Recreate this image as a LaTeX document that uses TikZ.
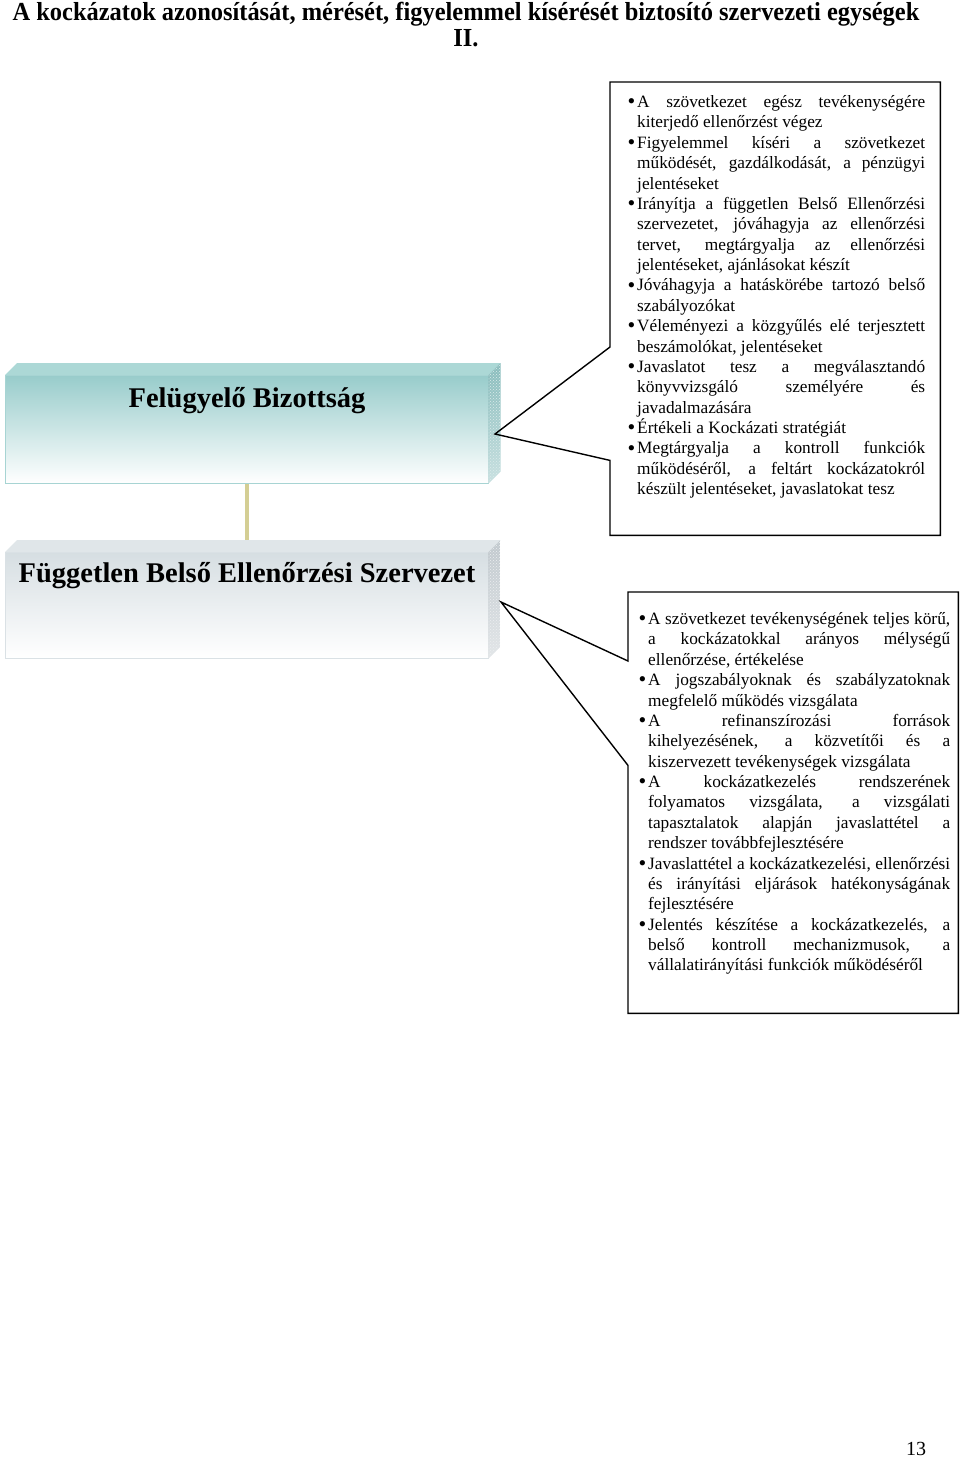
\documentclass[tikz,border=0pt]{standalone}
\usepackage{fontspec}
\setmainfont{Liberation Serif}
\newfontfamily\titlefont[FakeStretch=0.94]{Liberation Serif}
\usepackage{xcolor}
\usetikzlibrary{positioning,patterns}
\definecolor{fbteal}{RGB}{152,204,203}
\definecolor{fbtealtop}{RGB}{172,216,214}
\definecolor{fbtealside}{RGB}{136,188,188}
\definecolor{fbszgray}{RGB}{214,222,226}
\definecolor{fbszgraytop}{RGB}{224,230,233}
\definecolor{fbszgrayside}{RGB}{192,200,205}
\definecolor{linkkhaki}{RGB}{212,206,148}
\newcommand{\pont}{\par\noindent\llap{\raisebox{-1.2pt}{\fontsize{22}{0}\selectfont\textbullet}\hspace{2pt}}}
\hyphenpenalty=10000
\exhyphenpenalty=10000
\tolerance=10000

\begin{document}
\begin{tikzpicture}[x=1pt,y=-1pt,
    face/.style={rectangle, anchor=north west, inner sep=0pt, minimum width=483pt, line width=0.6pt},
    facename/.style={font=\bfseries\fontsize{28.5}{30}\selectfont, inner sep=0pt},
    frame/.style={rectangle, anchor=north west, inner sep=0pt, minimum width=330pt},
    callout/.style={draw=black, line width=1.4pt, line join=miter},
    itemtext/.style={anchor=north west, inner sep=0pt, align=justify,
        font=\fontsize{17.3}{20.37}\selectfont},
    link/.style={draw=linkkhaki, line width=4pt},
    title/.style={font=\titlefont\bfseries\fontsize{26}{26}\selectfont, align=center, inner sep=0pt},
    pagenum/.style={font=\fontsize{20}{20}\selectfont, inner sep=0pt}
]
\useasboundingbox (0,0) rectangle (960,1465);

% Title
\node[title] (title) at (466,25) {A kockázatok azonosítását, mérését, figyelemmel kísérését biztosító szervezeti egységek\\II.};

% Connector between the two units
\coordinate (fbtop) at (247,483);
\coordinate (fbszbottom) at (247,552);
\draw[link] (fbtop) -- (fbszbottom);

% Felügyelő Bizottság (3D box)
\node[face, minimum height=108pt, draw=fbteal!85, top color=fbteal, middle color=fbteal!55, bottom color=white] (fbface) at (5,375) {};
\fill[fbtealtop] (fbface.north west) -- ++(12,-12) -- ([xshift=12pt,yshift=12pt]fbface.north east) -- (fbface.north east) -- cycle;
\shade[top color=fbtealside, bottom color=fbtealside!45] (fbface.north east) -- ++(12,-12) -- ([xshift=12pt,yshift=12pt]fbface.south east) -- (fbface.south east) -- cycle;
\fill[pattern=crosshatch dots, pattern color=white!70!fbtealside] (fbface.north east) -- ++(12,-12) -- ([xshift=12pt,yshift=12pt]fbface.south east) -- (fbface.south east) -- cycle;
\node[facename] (fbname) at (247,401) {Felügyelő Bizottság};

% Független Belső Ellenőrzési Szervezet (3D box)
\node[face, minimum height=106pt, draw=fbszgray!90, top color=fbszgray, middle color=fbszgray!55, bottom color=white] (fbszface) at (5,552) {};
\fill[fbszgraytop] (fbszface.north west) -- ++(12,-12) -- ([xshift=12pt,yshift=12pt]fbszface.north east) -- (fbszface.north east) -- cycle;
\shade[top color=fbszgrayside, bottom color=fbszgrayside!45] (fbszface.north east) -- ++(12,-12) -- ([xshift=12pt,yshift=12pt]fbszface.south east) -- (fbszface.south east) -- cycle;
\fill[pattern=crosshatch dots, pattern color=white!70!fbszgrayside] (fbszface.north east) -- ++(12,-12) -- ([xshift=12pt,yshift=12pt]fbszface.south east) -- (fbszface.south east) -- cycle;
\node[facename] (fbszname) at (247,576) {Független Belső Ellenőrzési Szervezet};

% Callout of the Felügyelő Bizottság
\node[frame, minimum height=453pt] (fbbox) at (610,82) {};
\coordinate (fbtip) at (495,434);
\draw[callout] (fbbox.north west) -- (fbbox.north east) -- (fbbox.south east) -- (fbbox.south west)
    -- ([yshift=75pt]fbbox.south west) -- (fbtip) -- ([yshift=-265pt]fbbox.north west) -- cycle;
\node[itemtext, text width=288pt] (fblist) at (637,87) {%
\pont A szövetkezet egész tevékenységére\linebreak kiterjedő ellenőrzést végez
\pont Figyelemmel kíséri a szövetkezet\linebreak működését, gazdálkodását, a pénzügyi\linebreak jelentéseket
\pont Irányítja a független Belső Ellenőrzési\linebreak szervezetet, jóváhagyja az ellenőrzési\linebreak tervet, megtárgyalja az ellenőrzési\linebreak jelentéseket, ajánlásokat készít
\pont Jóváhagyja a hatáskörébe tartozó belső\linebreak szabályozókat
\pont Véleményezi a közgyűlés elé terjesztett\linebreak beszámolókat, jelentéseket
\pont Javaslatot tesz a megválasztandó\linebreak könyvvizsgáló személyére és\linebreak javadalmazására
\pont Értékeli a Kockázati stratégiát
\pont Megtárgyalja a kontroll funkciók\linebreak működéséről, a feltárt kockázatokról\linebreak készült jelentéseket, javaslatokat tesz\par};

% Callout of the Független Belső Ellenőrzési Szervezet
\node[frame, minimum height=421pt] (fbszbox) at (628,592) {};
\coordinate (fbsztip) at (501,602);
\draw[callout] (fbszbox.north west) -- (fbszbox.north east) -- (fbszbox.south east) -- (fbszbox.south west)
    -- ([yshift=248pt]fbszbox.south west) -- (fbsztip) -- ([yshift=-69pt]fbszbox.north west) -- cycle;
\node[itemtext, text width=302pt] (fbszlist) at (648,604) {%
\pont A szövetkezet tevékenységének teljes körű,\linebreak a kockázatokkal arányos mélységű\linebreak ellenőrzése, értékelése
\pont A jogszabályoknak és szabályzatoknak\linebreak megfelelő működés vizsgálata
\pont A refinanszírozási források\linebreak kihelyezésének, a közvetítői és a\linebreak kiszervezett tevékenységek vizsgálata
\pont A kockázatkezelés rendszerének\linebreak folyamatos vizsgálata, a vizsgálati\linebreak tapasztalatok alapján javaslattétel a\linebreak rendszer továbbfejlesztésére
\pont Javaslattétel a kockázatkezelési, ellenőrzési\linebreak és irányítási eljárások hatékonyságának\linebreak fejlesztésére
\pont Jelentés készítése a kockázatkezelés, a\linebreak belső kontroll mechanizmusok, a\linebreak vállalatirányítási funkciók működéséről\par};

% Page number
\node[pagenum] (page) at (916,1449) {13};
\end{tikzpicture}
\end{document}
